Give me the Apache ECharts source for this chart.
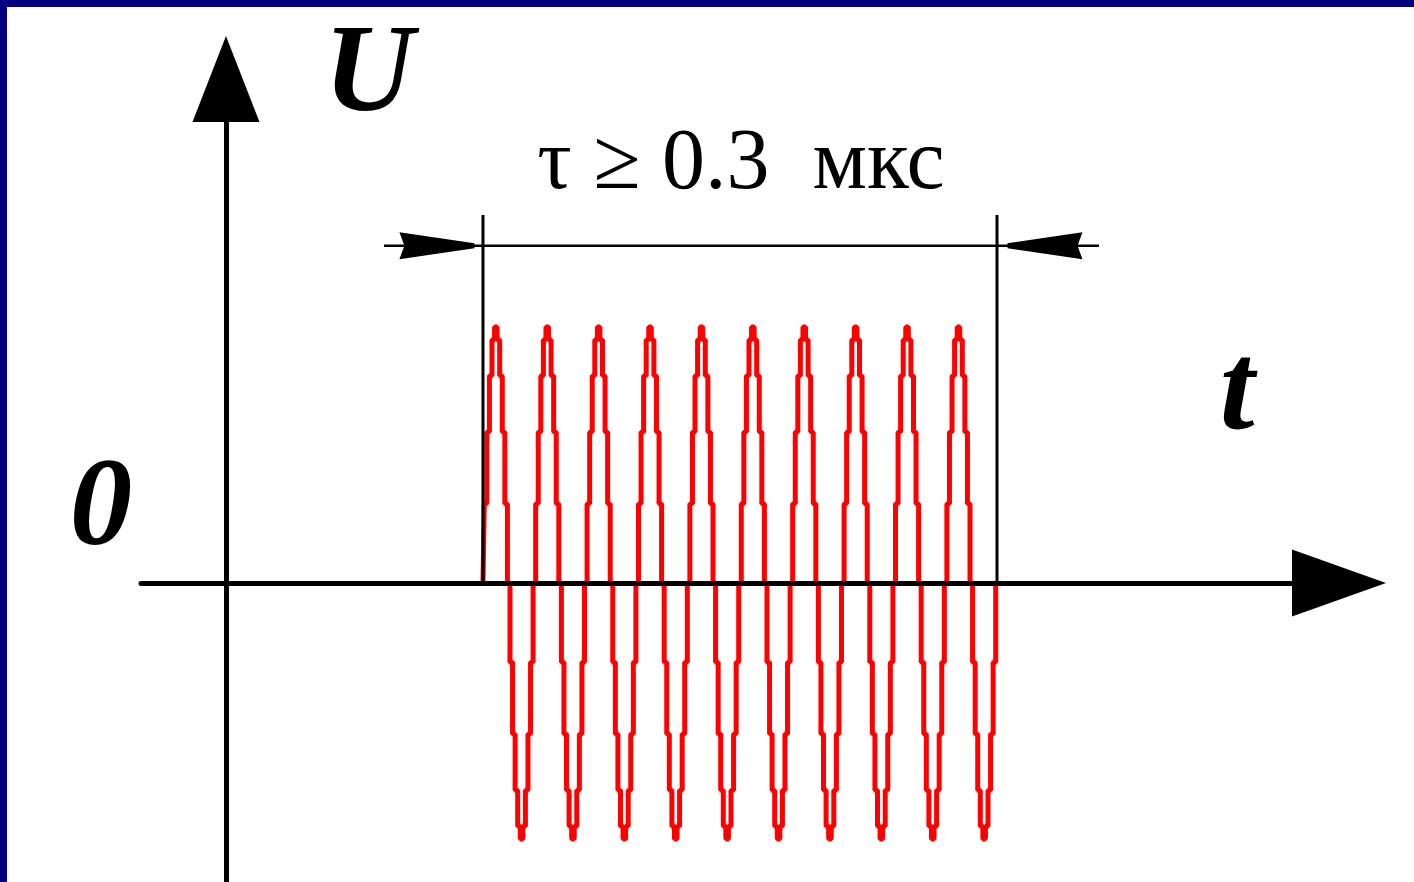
<!DOCTYPE html>
<html>
<head>
<meta charset="utf-8">
<title>U(t) pulse</title>
<script src="https://cdn.jsdelivr.net/npm/echarts@6/dist/echarts.min.js"></script>
<style>
  html, body { margin: 0; padding: 0; background: #fff; }
  #chart { position: absolute; left: 0; top: 0; width: 1414px; height: 882px; }
  .edge { position: absolute; background: #000080; z-index: 5; }
</style>
</head>
<body>
<div id="chart"></div>
<div class="edge" style="left:0;top:0;width:1414px;height:7px;"></div>
<div class="edge" style="left:0;top:0;width:7px;height:882px;"></div>
<script>
// time in ns, voltage in units of the pulse amplitude
const pulseStart = 150;   // ns
const pulseEnd = 450;     // ns  (tau = 0.3 us)
const sampleStep = 1.5;   // ns between samples of the drawn wave

// samples, 20 per period, 10 periods
const waveU = [
  0, 0.31, 0.59, 0.81, 0.95, 1, 0.95, 0.81, 0.59, 0.31, 0, -0.31, -0.59, -0.81, -0.95, -1, -0.95, -0.81, -0.59, -0.31,
  0, 0.31, 0.59, 0.81, 0.95, 1, 0.95, 0.81, 0.59, 0.31, 0, -0.31, -0.59, -0.81, -0.95, -1, -0.95, -0.81, -0.59, -0.31,
  0, 0.31, 0.59, 0.81, 0.95, 1, 0.95, 0.81, 0.59, 0.31, 0, -0.31, -0.59, -0.81, -0.95, -1, -0.95, -0.81, -0.59, -0.31,
  0, 0.31, 0.59, 0.81, 0.95, 1, 0.95, 0.81, 0.59, 0.31, 0, -0.31, -0.59, -0.81, -0.95, -1, -0.95, -0.81, -0.59, -0.31,
  0, 0.31, 0.59, 0.81, 0.95, 1, 0.95, 0.81, 0.59, 0.31, 0, -0.31, -0.59, -0.81, -0.95, -1, -0.95, -0.81, -0.59, -0.31,
  0, 0.31, 0.59, 0.81, 0.95, 1, 0.95, 0.81, 0.59, 0.31, 0, -0.31, -0.59, -0.81, -0.95, -1, -0.95, -0.81, -0.59, -0.31,
  0, 0.31, 0.59, 0.81, 0.95, 1, 0.95, 0.81, 0.59, 0.31, 0, -0.31, -0.59, -0.81, -0.95, -1, -0.95, -0.81, -0.59, -0.31,
  0, 0.31, 0.59, 0.81, 0.95, 1, 0.95, 0.81, 0.59, 0.31, 0, -0.31, -0.59, -0.81, -0.95, -1, -0.95, -0.81, -0.59, -0.31,
  0, 0.31, 0.59, 0.81, 0.95, 1, 0.95, 0.81, 0.59, 0.31, 0, -0.31, -0.59, -0.81, -0.95, -1, -0.95, -0.81, -0.59, -0.31,
  0, 0.31, 0.59, 0.81, 0.95, 1, 0.95, 0.81, 0.59, 0.31, 0, -0.31, -0.59, -0.81, -0.95, -1, -0.95, -0.81, -0.59, -0.31,
  0
];

// dimension line for tau
const dimY = 1.318;
const dimFrom = 92.2;
const dimTo = 509.5;
const extTop = 1.4375;
const arrowT = [123.1, 478];
const arrowRot = [0, 180];

const axisX = [-49.6, 649.6];
const axisY = [-1.168, 1.969];

const waveData = waveU.map((u, i) => [pulseStart + i * sampleStep, u]);

const chart = echarts.init(document.getElementById("chart"), null, { renderer: "canvas" });

const serif = '"Liberation Serif", "DejaVu Serif", serif';

chart.setOption({
  animation: false,
  backgroundColor: "#fff",
  grid: { left: 141, right: 75, top: 79, bottom: 0 },
  xAxis: {
    type: "value",
    min: axisX[0],
    max: axisX[1],
    z: 10,
    axisLine: {
      onZero: true,
      symbol: ["none", "triangle"],
      symbolSize: [67, 94],
      lineStyle: { color: "#000", width: 5 }
    },
    axisTick: { show: false },
    axisLabel: { show: false },
    splitLine: { show: false }
  },
  yAxis: {
    type: "value",
    min: axisY[0],
    max: axisY[1],
    z: 10,
    axisLine: {
      onZero: true,
      symbol: ["none", "triangle"],
      symbolSize: [67, 86],
      lineStyle: { color: "#000", width: 5 }
    },
    axisTick: { show: false },
    axisLabel: { show: false },
    splitLine: { show: false }
  },
  series: [
    {
      name: "U",
      type: "line",
      data: waveData,
      symbol: "none",
      step: "middle",
      z: 2,
      lineStyle: { color: "#ff0000", width: 5 }
    },
    // extension lines at the pulse edges
    ...[pulseStart, pulseEnd].map(t => ({
      type: "line",
      data: [[t, 0], [t, extTop]],
      symbol: "none",
      z: 3,
      lineStyle: { color: "#000", width: 3 }
    })),
    {
      type: "line",
      data: [[dimFrom, dimY], [dimTo, dimY]],
      symbol: "none",
      z: 3,
      lineStyle: { color: "#000", width: 2.5 }
    },
    {
      type: "scatter",
      z: 4,
      symbol: "path://M0,0 L75,11 L75,16 L0,27 L5,13.5 Z",
      symbolSize: [75, 27],
      itemStyle: { color: "#000", opacity: 1 },
      data: arrowT.map((t, i) => ({ value: [t, dimY], symbolRotate: arrowRot[i] }))
    }
  ],
  graphic: [
    {
      type: "text", x: 369, y: 78, z: 20,
      style: { text: "U", font: "bold italic 125px " + serif, fill: "#000", align: "center", verticalAlign: "middle" }
    },
    {
      type: "text", x: 1237, y: 396, z: 20,
      style: { text: "t", font: "bold italic 125px " + serif, fill: "#000", align: "center", verticalAlign: "middle" }
    },
    {
      type: "text", x: 101, y: 512, z: 20,
      style: { text: "0", font: "bold italic 125px " + serif, fill: "#000", align: "center", verticalAlign: "middle" }
    },
    {
      type: "text", x: 741, y: 165, z: 20,
      style: { text: "τ ≥ 0.3  мкс", font: "86px " + serif, fill: "#000", align: "center", verticalAlign: "middle" }
    }
  ]
});

window.onresize = chart.resize;
</script>
</body>
</html>
